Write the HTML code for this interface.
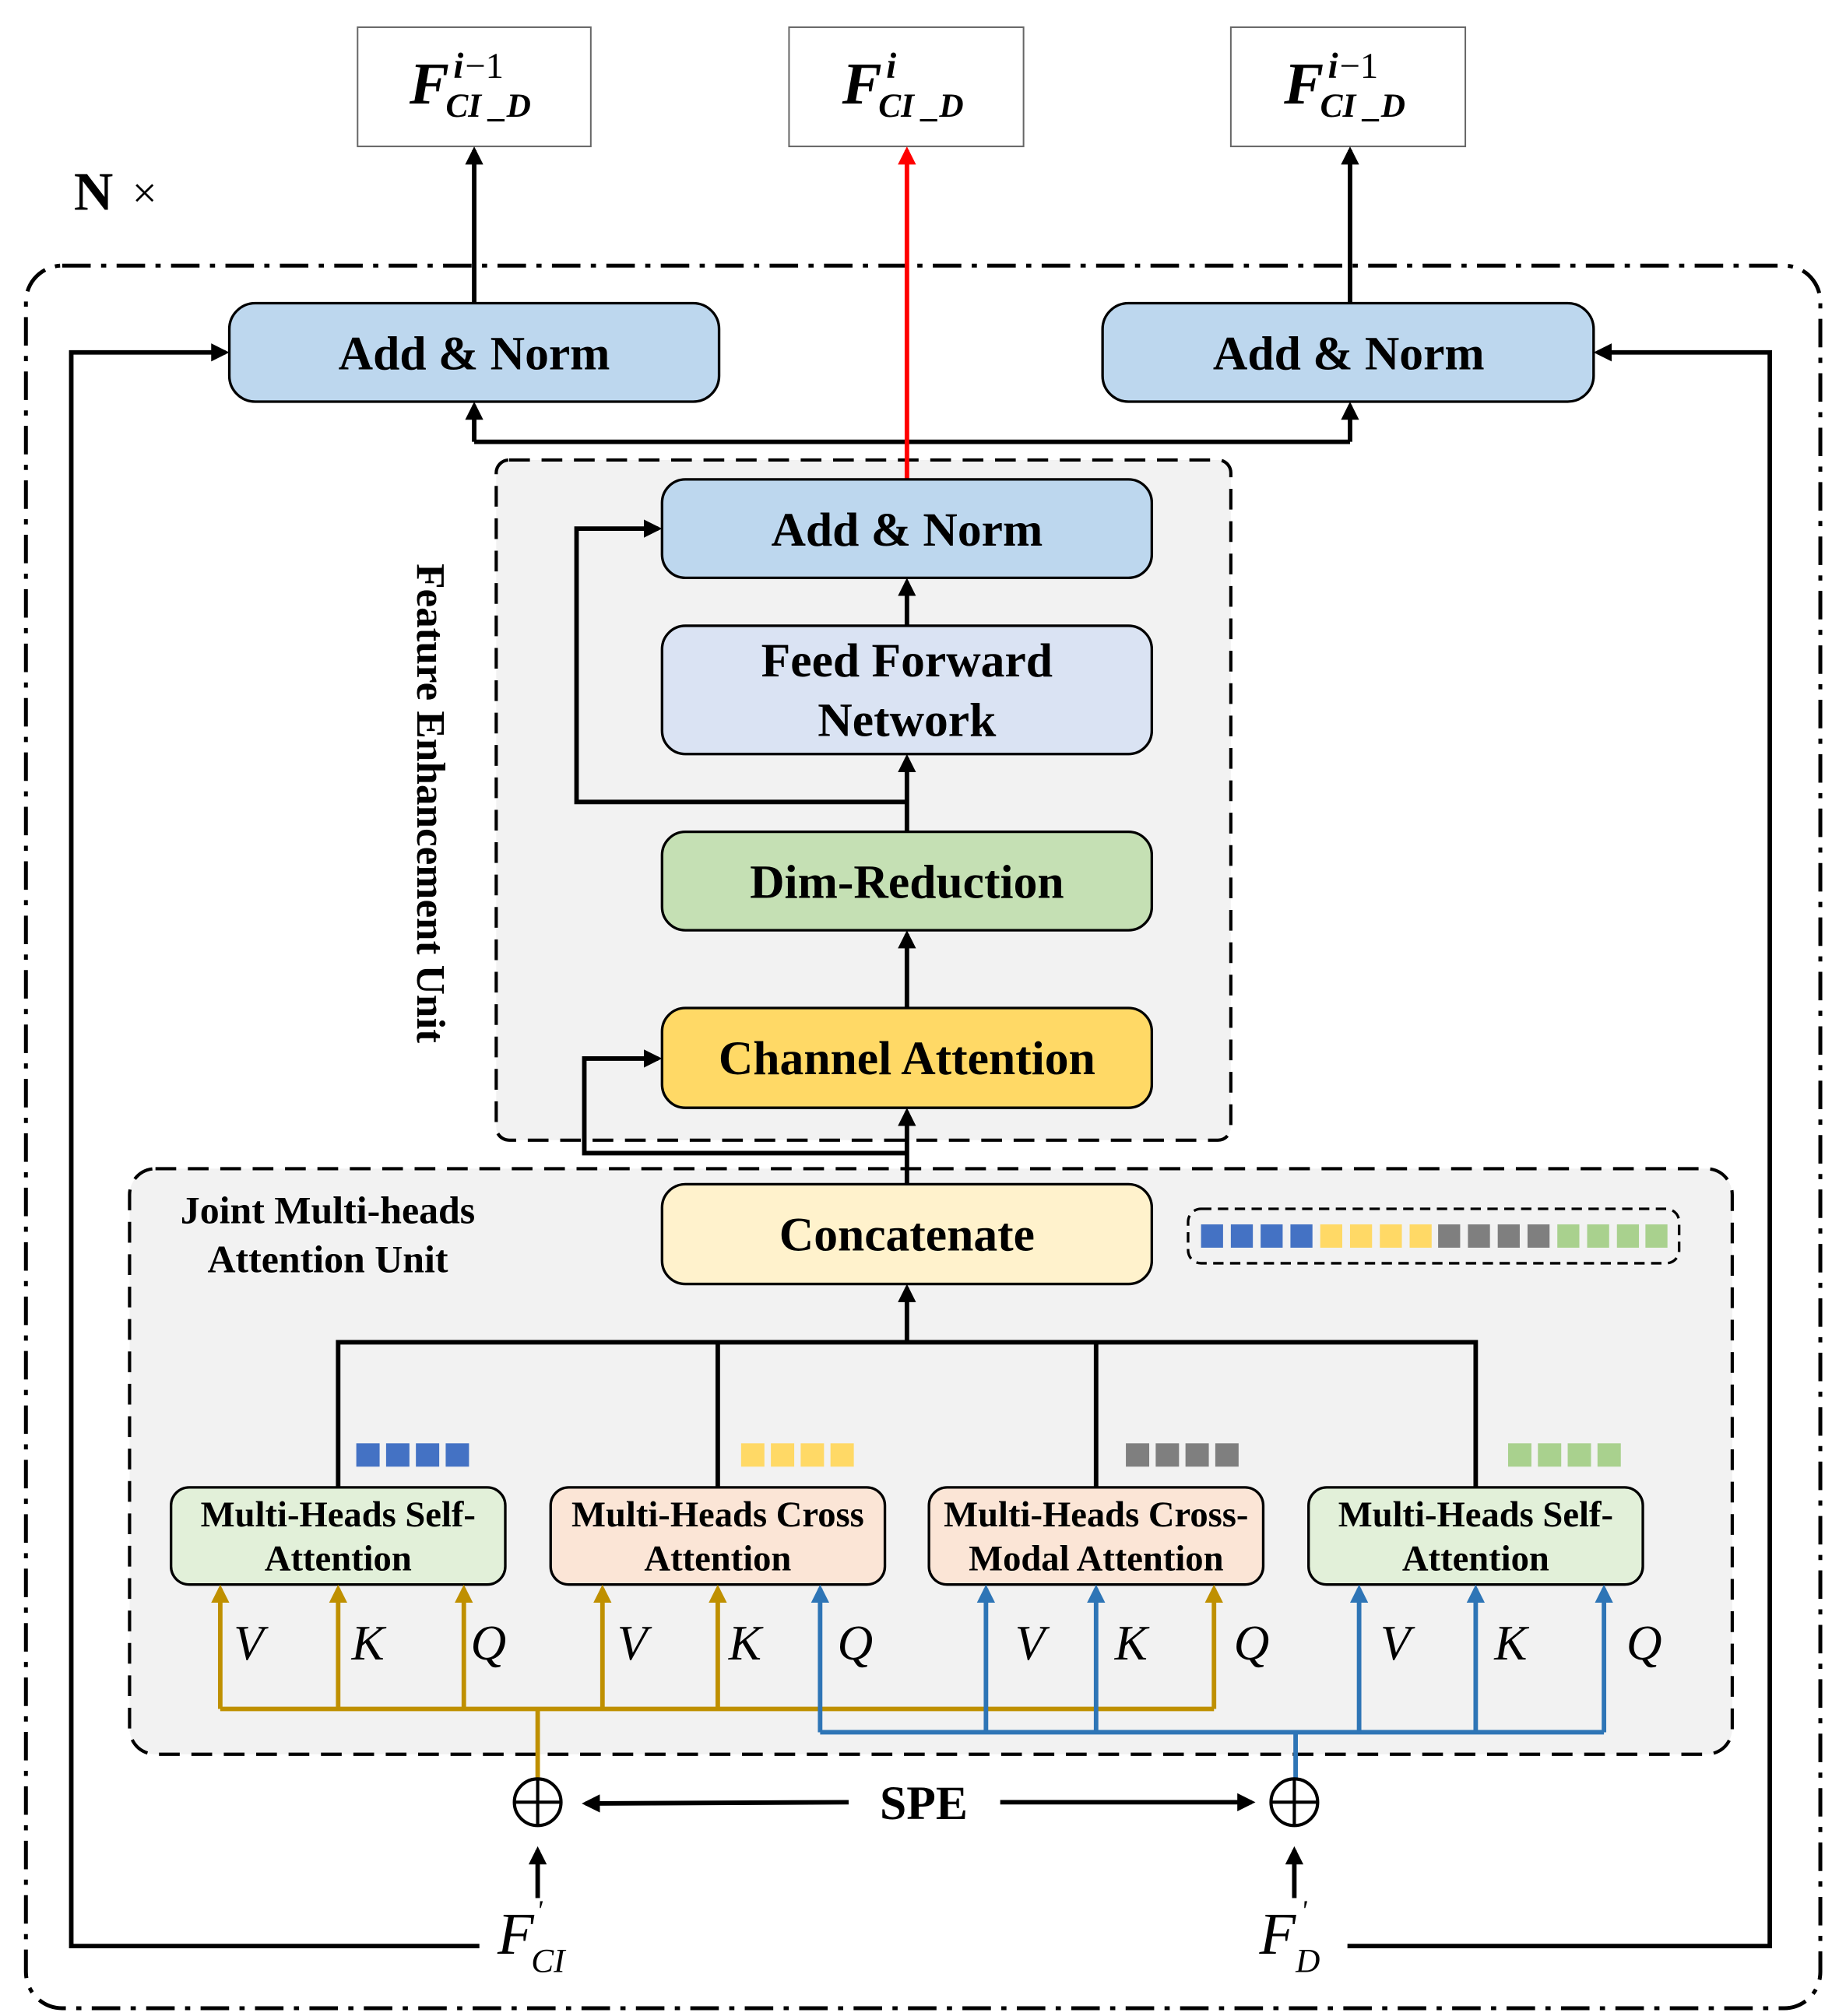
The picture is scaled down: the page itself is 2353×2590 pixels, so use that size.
<!DOCTYPE html>
<html><head><meta charset="utf-8"><style>
html,body{margin:0;padding:0;background:#fff;}
svg{display:block;}
text{font-family:"Liberation Serif",serif;}
.b{font-weight:bold;}
</style></head><body>
<svg width="2353" height="2590" viewBox="0 0 1414 1556" preserveAspectRatio="none" xmlns="http://www.w3.org/2000/svg">
<defs>
<marker id="ak" markerWidth="14" markerHeight="14" refX="11" refY="7" orient="auto" markerUnits="userSpaceOnUse"><path d="M0,0 L14,7 L0,14 Z" fill="#000"/></marker>
<marker id="ar" markerWidth="14" markerHeight="14" refX="11" refY="7" orient="auto" markerUnits="userSpaceOnUse"><path d="M0,0 L14,7 L0,14 Z" fill="#f00"/></marker>
<marker id="ag" markerWidth="14" markerHeight="14" refX="11" refY="7" orient="auto" markerUnits="userSpaceOnUse"><path d="M0,0 L14,7 L0,14 Z" fill="#bf9000"/></marker>
<marker id="ab" markerWidth="14" markerHeight="14" refX="11" refY="7" orient="auto" markerUnits="userSpaceOnUse"><path d="M0,0 L14,7 L0,14 Z" fill="#2e75b6"/></marker>
</defs>

<rect x="276" y="21" width="180" height="92" fill="#fff" stroke="#666" stroke-width="1.2"/>
<rect x="609" y="21" width="181" height="92" fill="#fff" stroke="#666" stroke-width="1.2"/>
<rect x="950" y="21" width="181" height="92" fill="#fff" stroke="#666" stroke-width="1.2"/>
<g font-style="italic">
<text x="316" y="80" font-size="46" class="b">F</text><text x="350" y="60" font-size="28" class="b">i</text><text x="359" y="60" font-size="28" font-style="normal">−1</text><text x="344" y="90" font-size="26" class="b">CI _D</text>
<text x="650" y="80" font-size="46" class="b">F</text><text x="684" y="60" font-size="28" class="b">i</text><text x="678" y="90" font-size="26" class="b">CI _D</text>
<text x="991" y="80" font-size="46" class="b">F</text><text x="1025" y="60" font-size="28" class="b">i</text><text x="1034" y="60" font-size="28" font-style="normal">−1</text><text x="1019" y="90" font-size="26" class="b">CI _D</text>
</g>
<text x="57" y="162" font-size="42" class="b">N</text><text x="102" y="160" font-size="34">×</text>

<rect x="20" y="205" width="1385" height="1345" rx="28" fill="none" stroke="#000" stroke-width="3" stroke-dasharray="22,8,4,8"/>

<rect x="383" y="355" width="567" height="525" rx="10" fill="#f2f2f2" stroke="#000" stroke-width="2.5" stroke-dasharray="16,9"/>
<text transform="translate(322,435) rotate(90)" font-size="31" class="b" textLength="370" lengthAdjust="spacingAndGlyphs">Feature Enhancement Unit</text>

<rect x="100" y="902" width="1237" height="452" rx="20" fill="#f2f2f2" stroke="#000" stroke-width="2.5" stroke-dasharray="16,9"/>
<text x="253" y="944" font-size="30" class="b" text-anchor="middle">Joint Multi-heads</text>
<text x="253" y="982" font-size="30" class="b" text-anchor="middle">Attention Unit</text>

<g stroke="#000" stroke-width="3.5" fill="none">
<line x1="366" y1="234" x2="366" y2="116" marker-end="url(#ak)"/>
<line x1="1042" y1="234" x2="1042" y2="116" marker-end="url(#ak)"/>
<polyline points="366,341 1042,341"/>
<line x1="366" y1="341" x2="366" y2="313" marker-end="url(#ak)"/>
<line x1="1042" y1="341" x2="1042" y2="313" marker-end="url(#ak)"/>
<line x1="700" y1="483" x2="700" y2="449" marker-end="url(#ak)"/>
<line x1="700" y1="642" x2="700" y2="585" marker-end="url(#ak)"/>
<line x1="700" y1="778" x2="700" y2="721" marker-end="url(#ak)"/>
<polyline points="700,619 445,619 445,408 508,408" marker-end="url(#ak)"/>
<line x1="700" y1="914" x2="700" y2="858" marker-end="url(#ak)"/>
<polyline points="700,890 451,890 451,817 508,817" marker-end="url(#ak)"/>
<line x1="700" y1="1036" x2="700" y2="994" marker-end="url(#ak)"/>
<polyline points="261,1148 261,1036 1139,1036 1139,1148"/>
<line x1="554" y1="1036" x2="554" y2="1148"/>
<line x1="846" y1="1036" x2="846" y2="1148"/>
<polyline points="370,1502 55,1502 55,272 174,272" marker-end="url(#ak)"/>
<polyline points="1040,1502 1366,1502 1366,272 1233,272" marker-end="url(#ak)"/>
<line x1="655" y1="1391" x2="452" y2="1392" marker-end="url(#ak)"/>
<line x1="772" y1="1391" x2="966" y2="1391" marker-end="url(#ak)"/>
<line x1="415" y1="1465" x2="415" y2="1428" marker-end="url(#ak)"/>
<line x1="999" y1="1465" x2="999" y2="1428" marker-end="url(#ak)"/>
</g>
<line x1="700" y1="370" x2="700" y2="116" stroke="#f00" stroke-width="3.5" marker-end="url(#ar)"/>

<g stroke="#000" stroke-width="2">
<rect x="177" y="234" width="378" height="76" rx="20" fill="#bdd7ee"/>
<rect x="851" y="234" width="379" height="76" rx="20" fill="#bdd7ee"/>
<rect x="511" y="370" width="378" height="76" rx="18" fill="#bdd7ee"/>
<rect x="511" y="483" width="378" height="99" rx="18" fill="#dae3f3"/>
<rect x="511" y="642" width="378" height="76" rx="18" fill="#c5e0b4"/>
<rect x="511" y="778" width="378" height="77" rx="18" fill="#ffd966"/>
<rect x="511" y="914" width="378" height="77" rx="18" fill="#fff2cc"/>
<rect x="132" y="1148" width="258" height="75" rx="14" fill="#e2f0d9"/>
<rect x="425" y="1148" width="258" height="75" rx="14" fill="#fbe5d6"/>
<rect x="717" y="1148" width="258" height="75" rx="14" fill="#fbe5d6"/>
<rect x="1010" y="1148" width="258" height="75" rx="14" fill="#e2f0d9"/>
</g>
<g font-size="37" class="b" text-anchor="middle">
<text x="366" y="285">Add &amp; Norm</text>
<text x="1041" y="285">Add &amp; Norm</text>
<text x="700" y="421">Add &amp; Norm</text>
<text x="700" y="522">Feed Forward</text>
<text x="700" y="568">Network</text>
<text x="700" y="693">Dim-Reduction</text>
<text x="700" y="829">Channel Attention</text>
<text x="700" y="965">Concatenate</text>
</g>
<g font-size="28" class="b" text-anchor="middle">
<text x="261" y="1178">Multi-Heads Self-</text><text x="261" y="1212">Attention</text>
<text x="554" y="1178">Multi-Heads Cross</text><text x="554" y="1212">Attention</text>
<text x="846" y="1178">Multi-Heads Cross-</text><text x="846" y="1212">Modal Attention</text>
<text x="1139" y="1178">Multi-Heads Self-</text><text x="1139" y="1212">Attention</text>
</g>

<rect x="917" y="933" width="379" height="42" rx="10" fill="none" stroke="#000" stroke-width="2" stroke-dasharray="8,5"/>
<g>
<rect x="927" y="945" width="17" height="18" fill="#4472c4"/><rect x="950" y="945" width="17" height="18" fill="#4472c4"/><rect x="973" y="945" width="17" height="18" fill="#4472c4"/><rect x="996" y="945" width="17" height="18" fill="#4472c4"/>
<rect x="1019" y="945" width="17" height="18" fill="#ffd966"/><rect x="1042" y="945" width="17" height="18" fill="#ffd966"/><rect x="1065" y="945" width="17" height="18" fill="#ffd966"/><rect x="1088" y="945" width="17" height="18" fill="#ffd966"/>
<rect x="1110" y="945" width="17" height="18" fill="#7f7f7f"/><rect x="1133" y="945" width="17" height="18" fill="#7f7f7f"/><rect x="1156" y="945" width="17" height="18" fill="#7f7f7f"/><rect x="1179" y="945" width="17" height="18" fill="#7f7f7f"/>
<rect x="1202" y="945" width="17" height="18" fill="#a9d18e"/><rect x="1225" y="945" width="17" height="18" fill="#a9d18e"/><rect x="1248" y="945" width="17" height="18" fill="#a9d18e"/><rect x="1270" y="945" width="17" height="18" fill="#a9d18e"/>
</g>
<g>
<rect x="275" y="1114" width="18" height="18" fill="#4472c4"/><rect x="298" y="1114" width="18" height="18" fill="#4472c4"/><rect x="321" y="1114" width="18" height="18" fill="#4472c4"/><rect x="344" y="1114" width="18" height="18" fill="#4472c4"/>
<rect x="572" y="1114" width="18" height="18" fill="#ffd966"/><rect x="595" y="1114" width="18" height="18" fill="#ffd966"/><rect x="618" y="1114" width="18" height="18" fill="#ffd966"/><rect x="641" y="1114" width="18" height="18" fill="#ffd966"/>
<rect x="869" y="1114" width="18" height="18" fill="#7f7f7f"/><rect x="892" y="1114" width="18" height="18" fill="#7f7f7f"/><rect x="915" y="1114" width="18" height="18" fill="#7f7f7f"/><rect x="938" y="1114" width="18" height="18" fill="#7f7f7f"/>
<rect x="1164" y="1114" width="18" height="18" fill="#a9d18e"/><rect x="1187" y="1114" width="18" height="18" fill="#a9d18e"/><rect x="1210" y="1114" width="18" height="18" fill="#a9d18e"/><rect x="1233" y="1114" width="18" height="18" fill="#a9d18e"/>
</g>

<g stroke="#bf9000" stroke-width="3.5" fill="none">
<polyline points="170,1319 937,1319"/>
<line x1="415" y1="1319" x2="415" y2="1374"/>
<line x1="170" y1="1319" x2="170" y2="1226" marker-end="url(#ag)"/>
<line x1="261" y1="1319" x2="261" y2="1226" marker-end="url(#ag)"/>
<line x1="358" y1="1319" x2="358" y2="1226" marker-end="url(#ag)"/>
<line x1="465" y1="1319" x2="465" y2="1226" marker-end="url(#ag)"/>
<line x1="554" y1="1319" x2="554" y2="1226" marker-end="url(#ag)"/>
<line x1="937" y1="1319" x2="937" y2="1226" marker-end="url(#ag)"/>
</g>
<g stroke="#2e75b6" stroke-width="3.5" fill="none">
<polyline points="633,1337 1238,1337"/>
<line x1="1000" y1="1337" x2="1000" y2="1374"/>
<line x1="633" y1="1337" x2="633" y2="1226" marker-end="url(#ab)"/>
<line x1="761" y1="1337" x2="761" y2="1226" marker-end="url(#ab)"/>
<line x1="846" y1="1337" x2="846" y2="1226" marker-end="url(#ab)"/>
<line x1="1049" y1="1337" x2="1049" y2="1226" marker-end="url(#ab)"/>
<line x1="1139" y1="1337" x2="1139" y2="1226" marker-end="url(#ab)"/>
<line x1="1238" y1="1337" x2="1238" y2="1226" marker-end="url(#ab)"/>
</g>

<g font-size="38" font-style="italic" text-anchor="middle">
<text x="192" y="1281">V</text><text x="284" y="1281">K</text><text x="377" y="1281">Q</text>
<text x="488" y="1281">V</text><text x="575" y="1281">K</text><text x="660" y="1281">Q</text>
<text x="795" y="1281">V</text><text x="873" y="1281">K</text><text x="966" y="1281">Q</text>
<text x="1077" y="1281">V</text><text x="1166" y="1281">K</text><text x="1269" y="1281">Q</text>
</g>

<g stroke="#000" stroke-width="2.5" fill="#fff">
<circle cx="415" cy="1391" r="18"/><circle cx="999" cy="1391" r="18"/>
</g>
<g stroke="#000" stroke-width="2.5">
<line x1="397" y1="1391" x2="433" y2="1391"/><line x1="415" y1="1373" x2="415" y2="1409"/>
<line x1="981" y1="1391" x2="1017" y2="1391"/><line x1="999" y1="1373" x2="999" y2="1409"/>
</g>
<text x="713" y="1404" font-size="37" class="b" text-anchor="middle">SPE</text>

<g font-style="italic">
<text x="384" y="1508" font-size="46">F</text><text x="414" y="1482" font-size="22">'</text><text x="410" y="1522" font-size="26">CI</text>
<text x="972" y="1508" font-size="46">F</text><text x="1004" y="1482" font-size="22">'</text><text x="1000" y="1522" font-size="26">D</text>
</g>
</svg>
</body></html>
